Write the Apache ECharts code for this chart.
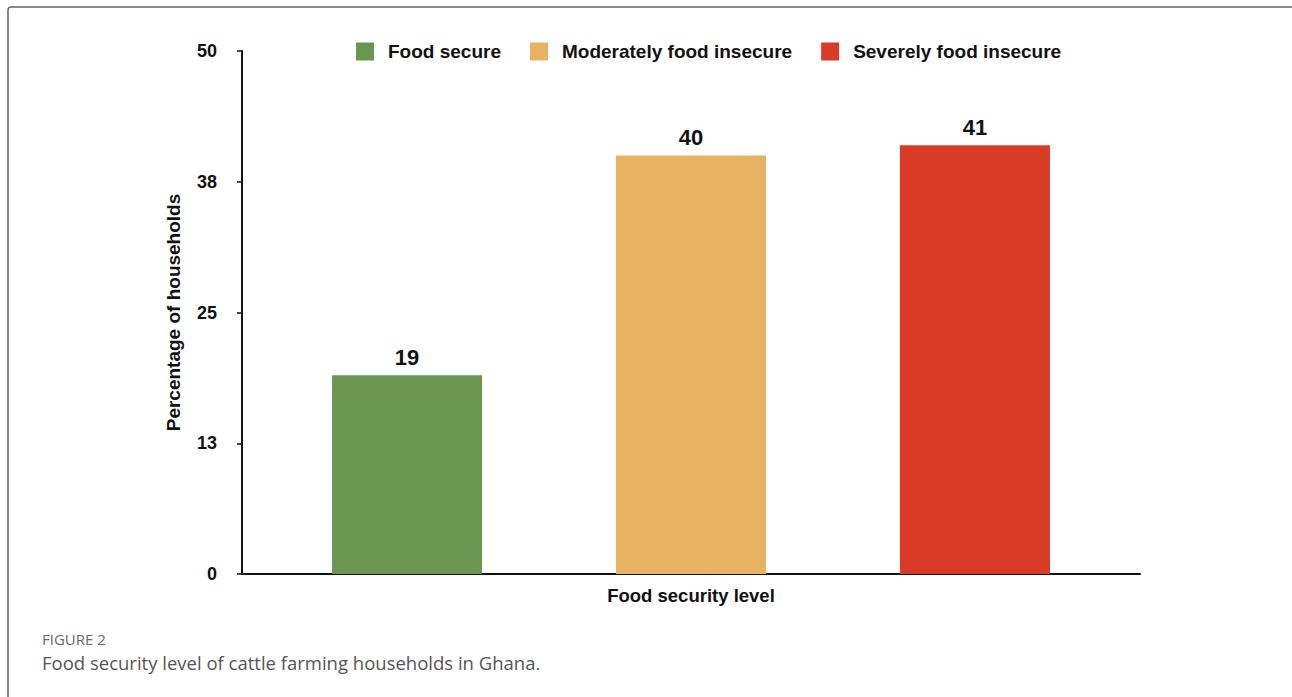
<!DOCTYPE html>
<html>
<head>
<meta charset="utf-8">
<script src="https://cdn.jsdelivr.net/npm/echarts@6/dist/echarts.min.js"></script>
<style>
html,body{margin:0;padding:0;background:#fff;}
#chart{width:1292px;height:697px;}
</style>
</head>
<body>
<div id="chart"></div>
<script>
var levels = ['Food secure', 'Moderately food insecure', 'Severely food insecure'];
var percentages = [19, 40, 41];
var colors = ['#6a9652', '#e7b363', '#d93b27'];
var xCategory = ['Food security level'];
var yTicks = [0, 13, 25, 38, 50];

var font = '"Liberation Sans", Arial, Helvetica, sans-serif';
var capFont = '"Open Sans", Lato, sans-serif';
var chart = echarts.init(document.getElementById('chart'), null, {renderer: 'svg'});

var series = levels.map(function (name, i) {
  return {
    name: name,
    type: 'bar',
    data: [percentages[i]],
    barWidth: 150,
    barGap: '89.3%',
    itemStyle: {color: colors[i]},
    label: {
      show: true,
      position: 'top',
      distance: 7,
      color: '#111',
      fontFamily: font,
      fontWeight: 'bold',
      fontSize: 22
    }
  };
});

chart.setOption({
  animation: false,
  grid: {left: 242, right: 152, top: 51, bottom: 123, containLabel: false},
  legend: {
    left: 351,
    top: 37,
    itemWidth: 18,
    itemHeight: 18,
    itemGap: 29,
    icon: 'rect',
    data: levels,
    textStyle: {
      fontFamily: font,
      fontWeight: 'bold',
      fontSize: 19,
      color: '#111',
      padding: [0, 0, 0, 9]
    }
  },
  xAxis: {
    type: 'category',
    data: xCategory,
    name: 'Food security level',
    nameLocation: 'middle',
    nameGap: 12,
    nameTextStyle: {fontFamily: font, fontWeight: 'bold', fontSize: 18.5, color: '#111', verticalAlign: 'top'},
    axisLine: {lineStyle: {color: '#111', width: 2}},
    axisTick: {show: false},
    axisLabel: {show: false},
    splitLine: {show: false}
  },
  yAxis: {
    type: 'value',
    min: 0,
    max: 50,
    interval: 12.5,
    name: 'Percentage of households',
    nameLocation: 'middle',
    nameGap: 59,
    nameTextStyle: {fontFamily: font, fontWeight: 'bold', fontSize: 19, color: '#111'},
    axisLine: {show: true, lineStyle: {color: '#111', width: 2}},
    axisTick: {show: true, length: 5, lineStyle: {color: '#111', width: 1.5}},
    axisLabel: {
      margin: 25,
      fontFamily: font,
      fontWeight: 'bold',
      fontSize: 18,
      color: '#111',
      formatter: function (v) {
        var idx = Math.round(v / 12.5);
        return String(yTicks[idx]);
      }
    },
    splitLine: {show: false}
  },
  graphic: [
    {
      type: 'rect',
      silent: true,
      shape: {x: 8, y: 7, width: 1400, height: 800, r: 3},
      style: {fill: 'none', stroke: '#666', lineWidth: 1.5}
    },
    {
      type: 'text',
      left: 42,
      top: 631,
      style: {text: 'FIGURE 2', fontFamily: capFont, fontSize: 15, fontWeight: 500, fill: '#6a6a6a'}
    },
    {
      type: 'text',
      left: 42,
      top: 653,
      style: {text: 'Food security level of cattle farming households in Ghana.', fontFamily: capFont, fontSize: 18.5, fill: '#555'}
    }
  ],
  series: series
});
</script>
</body>
</html>
